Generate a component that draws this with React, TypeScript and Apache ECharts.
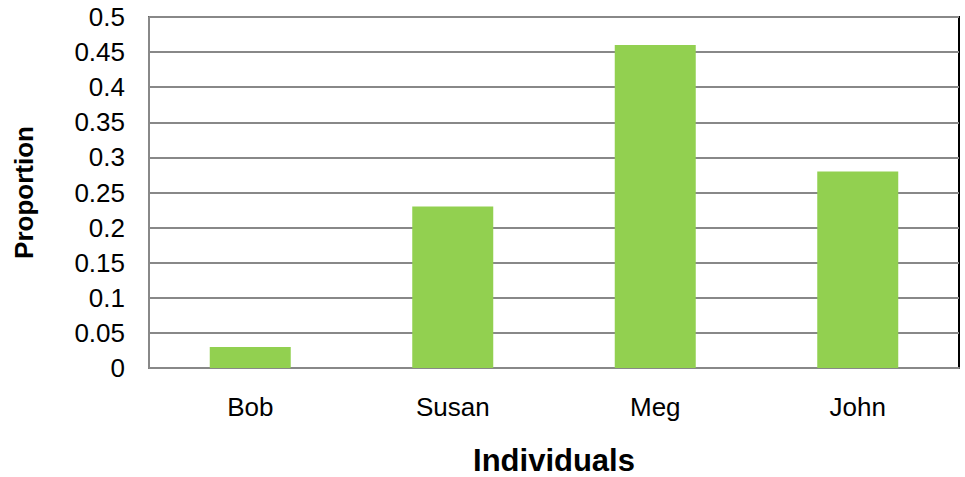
import React, { useEffect, useRef } from "react";
import * as echarts from "echarts";

const categories = ["Bob", "Susan", "Meg", "John"];
const proportions = [0.03, 0.23, 0.46, 0.28];
const yTickLabels = ["0", "0.05", "0.1", "0.15", "0.2", "0.25", "0.3", "0.35", "0.4", "0.45", "0.5"];

export default function App() {
  const ref = useRef<HTMLDivElement>(null);
  useEffect(() => {
    document.body.style.margin = "0";
    const chart = echarts.init(ref.current!, null, { renderer: "svg" });
    const font = "'Liberation Sans', Arial, sans-serif";
    chart.setOption({
      animation: false,
      backgroundColor: "#ffffff",
      grid: {
        left: 149, right: 6, top: 17, bottom: 109,
        outerBoundsMode: "none",
        containLabel: false,
        show: true, borderColor: "#000000", borderWidth: 2, backgroundColor: "transparent",
      },
      xAxis: {
        type: "category",
        data: categories,
        name: "Individuals",
        nameLocation: "middle",
        nameGap: 77,
        nameTextStyle: { fontFamily: font, fontSize: 31, fontWeight: "bold", color: "#000" },
        axisLine: { lineStyle: { color: "#888888", width: 2 } },
        axisTick: { show: false },
        axisLabel: { fontFamily: font, fontSize: 26, color: "#000", margin: 26 },
        splitLine: { show: false },
      },
      yAxis: {
        type: "value",
        min: 0,
        max: 0.5,
        interval: 0.05,
        name: "Proportion",
        nameLocation: "middle",
        nameGap: 112,
        nameTextStyle: { fontFamily: font, fontSize: 26, fontWeight: "bold", color: "#000" },
        axisLine: { show: true, lineStyle: { color: "#888888", width: 2 } },
        axisTick: { show: false },
        axisLabel: {
          fontFamily: font,
          fontSize: 26,
          color: "#000",
          margin: 24,
          formatter: (v: number) => {
            const idx = Math.round(v / 0.05);
            return yTickLabels[idx] ?? "";
          },
        },
        splitLine: { lineStyle: { color: "#888888", width: 2 } },
      },
      series: [
        {
          type: "bar",
          data: proportions,
          barWidth: "40%",
          itemStyle: { color: "#92D050" },
        },
      ],
    });
    return () => chart.dispose();
  }, []);
  return <div ref={ref} style={{ width: 965, height: 477 }} />;
}
